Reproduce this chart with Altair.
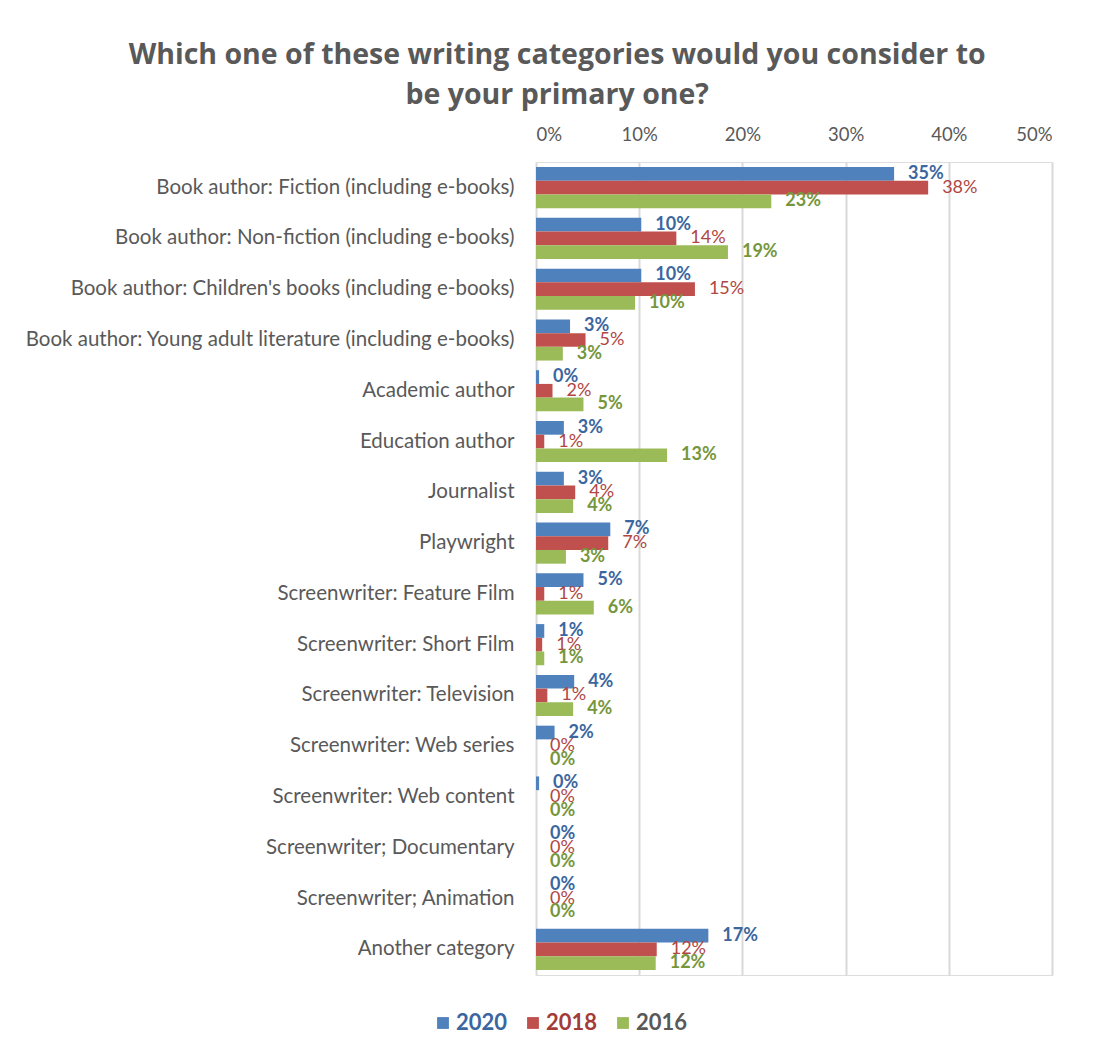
import altair as alt
import pandas as pd

categories = [
    "Book author: Fiction (including e-books)",
    "Book author: Non-fiction (including e-books)",
    "Book author: Children's books (including e-books)",
    "Book author: Young adult literature (including e-books)",
    "Academic author",
    "Education author",
    "Journalist",
    "Playwright",
    "Screenwriter: Feature Film",
    "Screenwriter: Short Film",
    "Screenwriter: Television",
    "Screenwriter: Web series",
    "Screenwriter: Web content",
    "Screenwriter; Documentary",
    "Screenwriter; Animation",
    "Another category",
]
series_order = ["2020", "2018", "2016"]
v2020 = [34.7, 10.2, 10.2, 3.3, 0.3, 2.7, 2.7, 7.2, 4.6, 0.8, 3.7, 1.8, 0.3, 0, 0, 16.7]
v2018 = [38.0, 13.6, 15.4, 4.8, 1.6, 0.8, 3.8, 7.0, 0.8, 0.6, 1.1, 0, 0, 0, 0, 11.7]
v2016 = [22.8, 18.6, 9.6, 2.6, 4.6, 12.7, 3.6, 2.9, 5.6, 0.8, 3.6, 0, 0, 0, 0, 11.6]
x_ticks = [0, 10, 20, 30, 40, 50]

bar_colors = ["#4F81BD", "#C0504D", "#9BBB59"]
label_colors = {"2020": "#3B66A0", "2018": "#B04643", "2016": "#76963C"}
label_weights = {"2020": "bold", "2018": "normal", "2016": "bold"}

rows = []
for i, c in enumerate(categories):
    for s, vals in zip(series_order, (v2020, v2018, v2016)):
        rows.append({"category": c, "series": s, "value": vals[i],
                     "label": f"{round(vals[i])}%"})
df = pd.DataFrame(rows)

FONT = "Lato"
GRAY = "#595959"

y_enc = alt.Y("category:N", sort=categories,
              scale=alt.Scale(paddingInner=0.19, paddingOuter=0.1),
              axis=alt.Axis(title=None, labelFont=FONT, labelFontSize=20.5,
                            labelColor=GRAY, labelPadding=22, ticks=False,
                            domain=False, labelLimit=700))
yoff_enc = alt.YOffset("series:N", sort=series_order,
                       scale=alt.Scale(domain=series_order, paddingInner=0, paddingOuter=0))
x_scale = alt.Scale(domain=[0, 50], nice=False)

bars = alt.Chart(df).mark_bar().encode(
    y=y_enc,
    yOffset=yoff_enc,
    x=alt.X("value:Q", scale=x_scale,
            axis=alt.Axis(orient="top", values=x_ticks, labelExpr="datum.value + '%'",
                          grid=True, gridColor="#D9D9D9", gridWidth=2, domain=False,
                          ticks=False, title=None, labelFont=FONT, labelFontSize=18.5,
                          labelColor=GRAY, labelPadding=18)),
    color=alt.Color("series:N", sort=series_order,
                    scale=alt.Scale(domain=series_order, range=bar_colors),
                    legend=alt.Legend(title=None, orient="none", direction="horizontal",
                                      legendX=-104, legendY=850,
                                      symbolType="square", symbolSize=140,
                                      symbolStrokeWidth=0,
                                      labelFont=FONT, labelFontSize=22,
                                      labelFontWeight="bold",
                                      labelColor={"expr": "datum.label == '2020' ? '#3B66A0' : datum.label == '2018' ? '#A33C39' : '#595959'"},
                                      columnPadding=14, labelOffset=2)),
)

layers = [bars]
for s in series_order:
    t = alt.Chart(df).transform_filter(alt.datum.series == s).mark_text(
        align="left", baseline="middle", dx=14, font=FONT, fontSize=18,
        fontWeight=label_weights[s], color=label_colors[s]
    ).encode(
        y=y_enc,
        yOffset=yoff_enc,
        x=alt.X("value:Q", scale=x_scale),
        text="label:N",
    )
    layers.append(t)

chart = alt.layer(*layers).properties(
    width=516,
    height=813,
    padding={"left": 16, "top": 32, "right": 5, "bottom": 5},
    title=alt.Title(["Which one of these writing categories would you consider to",
                     "be your primary one?"],
                    font="Open Sans", fontSize=28.5, fontWeight="bold", color=GRAY,
                    anchor="middle", frame="bounds", lineHeight=40, offset=16, dx=19),
).configure_view(stroke="transparent").configure(background="white")

chart.save("out.html", embed_options={"renderer": "svg", "actions": False})
